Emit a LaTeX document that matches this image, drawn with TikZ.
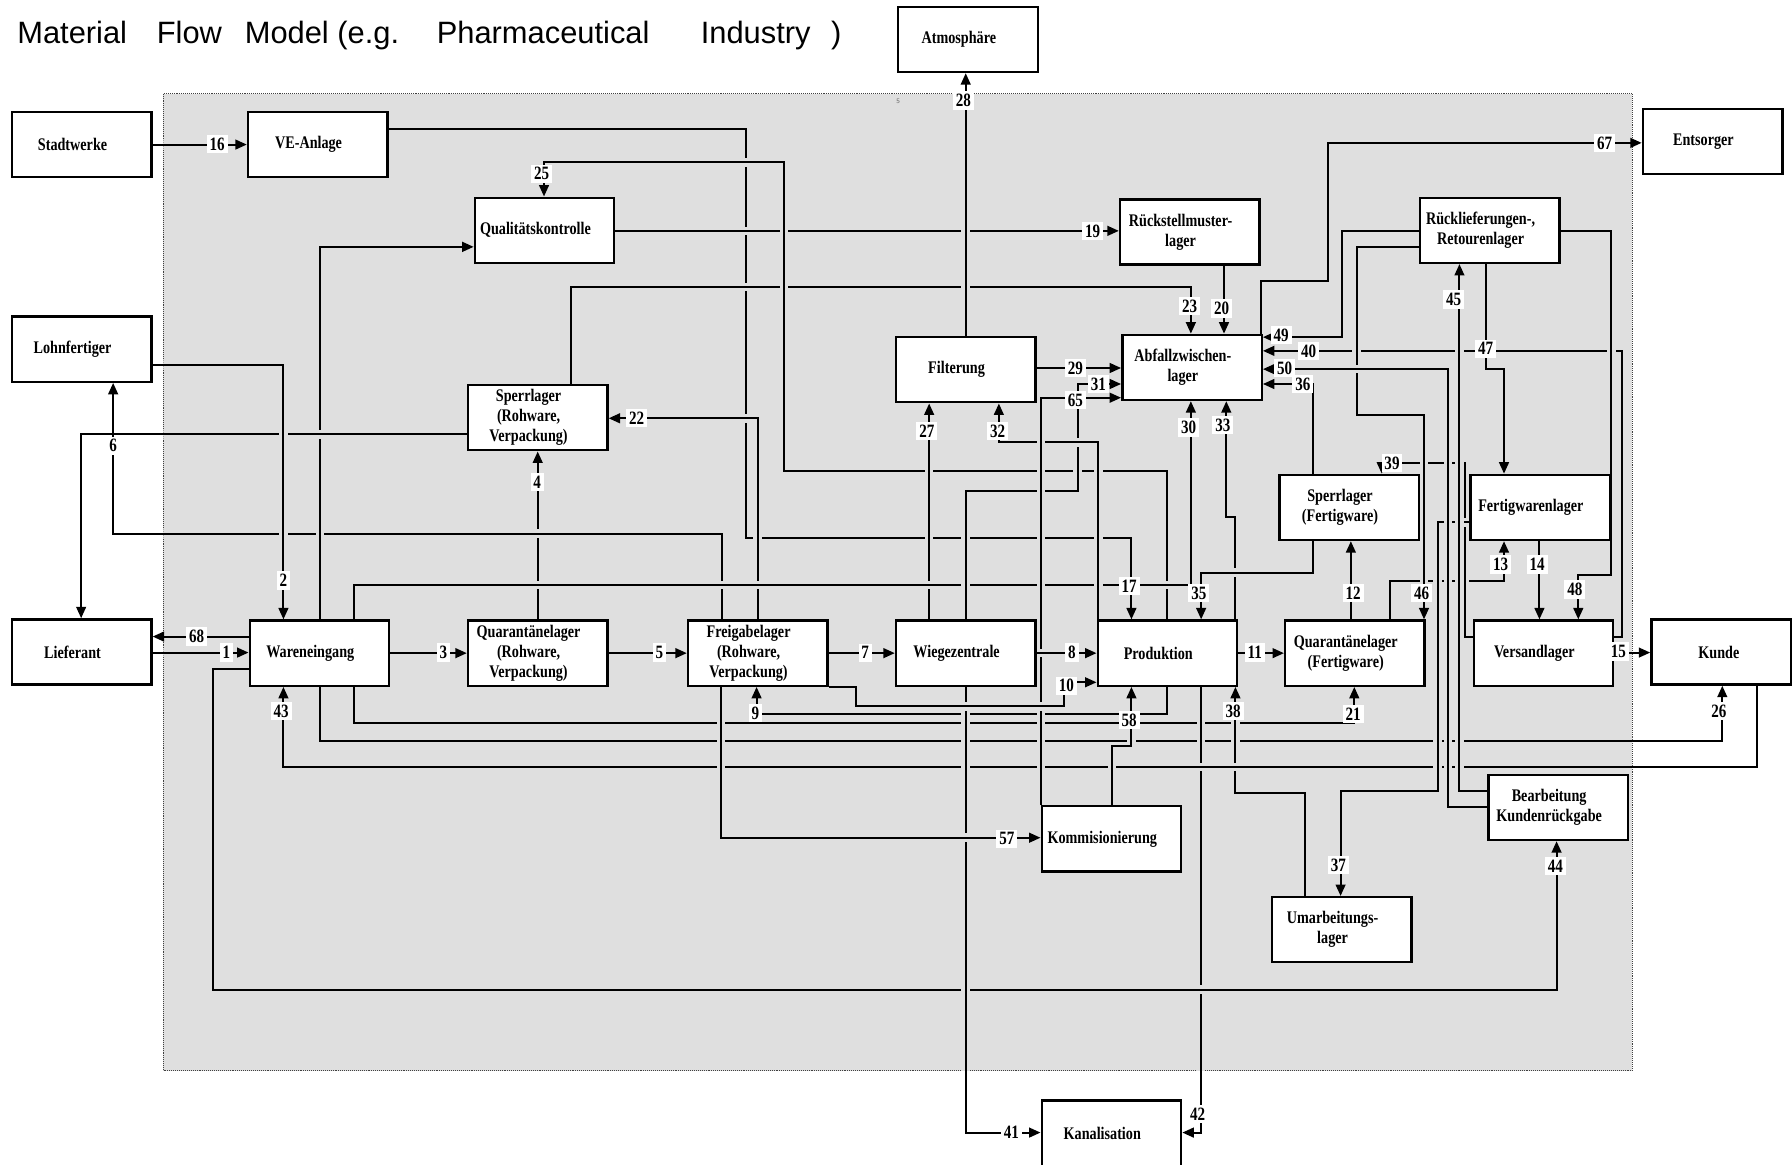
\documentclass[tikz,border=0pt]{standalone}
\usepackage{fontspec}
\setmainfont{Liberation Serif}
\newfontfamily\boxfont{Liberation Serif}[FakeStretch=0.8]
\newfontfamily\titlefont{Liberation Sans}
\usetikzlibrary{arrows.meta}
\definecolor{sysgrey}{HTML}{DFDFDF}
\pgfdeclarelayer{bg}
\pgfsetlayers{bg,main}
\tikzset{
  box/.style={draw, fill=white, line width=2.1pt, minimum width=122pt, minimum height=57pt,
    inner sep=0pt, label={[boxtxt]center:{#1}}},
  boxtxt/.style={xshift=-8pt, align=center, inner sep=0pt,
    font=\boxfont\bfseries\fontsize{15.5}{17.5}\selectfont},
  flow/.style={line width=1.8pt, -{Triangle[length=10pt,width=8.5pt]}},
  halo/.style={line width=7.5pt, sysgrey},
  num/.style={fill=white, inner xsep=2.5pt, inner ysep=2.5pt,
    font=\boxfont\bfseries\fontsize{16.5}{16.5}\selectfont},
  title/.style={anchor=base west, inner sep=0pt, font=\titlefont\fontsize{27}{27}\selectfont}
}
% line with a gap cut into the lines below it
\newcommand{\flowpath}[1]{%
  \begin{scope}
    \clip (sysA) rectangle (sysB);
    \draw[halo] #1;
  \end{scope}
  \draw[flow] #1;}

\begin{document}
\begin{tikzpicture}[x=1pt, y=-1pt]
  \useasboundingbox (0,0) rectangle (1568,1019);

  % Title
  \node[title] (t1) at (15,38) {Material};
  \node[title] (t2) at (137,38) {Flow};
  \node[title] (t3) at (214,38) {Model (e.g.};
  \node[title] (t4) at (382,38) {Pharmaceutical};
  \node[title] (t5) at (613,38) {Industry};
  \node[title] (t6) at (727,38) {)};

  % Company area
  \coordinate (sysA) at (143,82);
  \coordinate (sysB) at (1428,937);
  \node[font=\sffamily\fontsize{6}{6}\selectfont, text=black!60] (pgno) at (786,89) {5};

  % Boxes
  \node[box={Atmosphäre}] (atmo) at (847,34.5) {};
  \node[box={Stadtwerke}] (stadt) at (71.5,126.5) {};
  \node[box={VE-Anlage}] (ve) at (278,126.5) {};
  \node[box={Entsorger}] (ents) at (1498.5,124) {};
  \node[box={Qualitätskontrolle}] (qk) at (476.5,201.5) {};
  \node[box={Rückstellmuster-\\lager}] (rsm) at (1041,203) {};
  \node[box={Rücklieferungen-,\\Retourenlager}] (rue) at (1303.5,201.5) {};
  \node[box={Lohnfertiger}] (lohn) at (71.5,305.5) {};
  \node[box={Filterung}] (filt) at (845,323.5) {};
  \node[box={Abfallzwischen-\\lager}] (abf) at (1043,321.5) {};
  \node[box={Sperrlager\\(Rohware,\\Verpackung)}] (sperrR) at (470.5,365.5) {};
  \node[box={Sperrlager\\(Fertigware)}] (sperrF) at (1180.5,444) {};
  \node[box={Fertigwarenlager}] (fert) at (1347.5,444) {};
  \node[box={Lieferant}] (lief) at (71.5,570.5) {};
  \node[box={Wareneingang}] (we) at (279.5,571.5) {};
  \node[box={Quarantänelager\\(Rohware,\\Verpackung)}] (quaR) at (470.5,571.5) {};
  \node[box={Freigabelager\\(Rohware,\\Verpackung)}] (frei) at (663,571.5) {};
  \node[box={Wiegezentrale}] (wiege) at (845,571.5) {};
  \node[box={Produktion}] (prod) at (1021.5,571.5) {};
  \node[box={Quarantänelager\\(Fertigware)}] (quaF) at (1185.5,571.5) {};
  \node[box={Versandlager}] (vers) at (1350.5,571.5) {};
  \node[box={\hspace*{12pt}Kunde}] (kunde) at (1506,570.5) {};
  \node[box={Bearbeitung\\Kundenrückgabe}] (bearb) at (1363.5,706.5) {};
  \node[box={Kommisionierung}] (komm) at (972.5,734) {};
  \node[box={Umarbeitungs-\\lager}] (umarb) at (1174,813.5) {};
  \node[box={Kanalisation}, minimum height=58pt] (kanal) at (972.5,992) {};

  \begin{pgfonlayer}{bg}
    \fill[sysgrey] (sysA) rectangle (sysB);
    \draw[densely dotted, line width=0.7pt, black!75] (sysA) rectangle (sysB);

    % Flows, lowest first
    \flowpath{(quaF.north -| 1216,0) |- (1316,508) -- (fert.south -| 1316,0)}
    \flowpath{(vers.west |- 0,557) -| (1282,405) -| (sperrF.north -| 1209,0)}
    \flowpath{(vers.east |- 0,557) -- (1419,557) |- (abf.east |- 0,307)}
    \flowpath{(ve.east |- 0,113) -| (653,471) -| (prod.north -| 990,0)}
    \flowpath{(quaR.north) -- (sperrR.south)}
    \flowpath{(frei.north -| 632,0) |- (99,467) -- (lohn.south -| 99,0)}
    \flowpath{(we.north -| 280,0) |- (qk.west |- 0,216)}
    \flowpath{(sperrR.west |- 0,380) -| (lief.north -| 71,0)}
    \flowpath{(lohn.east |- 0,319) -| (we.north -| 248,0)}
    \flowpath{(qk.east |- 0,202) -- (rsm.west |- 0,202)}
    \flowpath{(sperrR.north -| 500,0) |- (1042,251) -- (abf.north -| 1042,0)}
    \flowpath{(frei.north -| 663,0) |- (sperrR.east |- 0,366)}
    \flowpath{(prod.north -| 1021,0) |- (686,412) |- (476,142) -- (qk.north -| 476,0)}
    \flowpath{(wiege.north -| 813,0) -- (filt.south -| 813,0)}
    \flowpath{(filt.north) -- (filt.north |- atmo.south)}
    \flowpath{(we.north -| 310,0) |- (1042,512) -- (abf.south -| 1042,0)}
    \flowpath{(wiege.north) |- (943,430) |- (abf.west |- 0,336)}
    \flowpath{(prod.north -| 961,0) |- (874,387) -- (filt.south -| 874,0)}
    \flowpath{(prod.north -| 1081,0) |- (1073,452) -- (abf.south -| 1073,0)}
    \flowpath{(sperrF.south -| 1149,0) |- (1051,501) -- (prod.north -| 1051,0)}
    \flowpath{(we.south -| 310,0) |- (1185,633) -- (quaF.south -| 1185,0)}
    \flowpath{(we.south -| 280,0) |- (1507,648) -- (kunde.south -| 1507,0)}
    \flowpath{(prod.south -| 1021,0) |- (662,625) -- (frei.south -| 662,0)}
    \flowpath{(prod.south -| 1051,0) |- (kanal.east |- 0,991)}
    \flowpath{(umarb.north -| 1142,0) |- (1081,694) -- (prod.south -| 1081,0)}
    \flowpath{(kunde.south -| 1537,0) |- (248,671) -- (we.south -| 248,0)}
    \flowpath{(we.west |- 0,585) -| (186,866) -| (bearb.south -| 1362,0)}
    \flowpath{(komm.north -| 911,0) |- (abf.west |- 0,348)}
    \flowpath{(wiege.south) |- (kanal.west |- 0,991)}
    \flowpath{(frei.south -| 631,0) |- (komm.west |- 0,733)}
    \flowpath{(frei.south east) -| (749,618) -| (931,597) -- (prod.west |- 0,597)}
    \flowpath{(komm.north -| 973,0) |- (990,653) -- (prod.south -| 990,0)}
    \flowpath{(rue.west |- 0,216) -| (1187,363) -| (quaF.north -| 1246,0)}
    \flowpath{(fert.west |- 0,457) -| (1258,692) -| (umarb.north -| 1173,0)}
    \flowpath{(bearb.west |- 0,706) -| (1267,323) -- (abf.east |- 0,323)}
    \flowpath{(bearb.west |- 0,692) -| (rue.south -| 1277,0)}
    \flowpath{(rue.south -| 1300,0) |- (1316,323) -- (fert.north -| 1316,0)}
    \flowpath{(rue.east |- 0,202) -| (1410,503) -| (vers.north -| 1381,0)}
    \flowpath{(rue.west |- 0,202) -| (1174,295) -- (abf.east |- 0,295)}
    \flowpath{(sperrF.north -| 1149,0) |- (abf.east |- 0,336)}
    \flowpath{(quaF.north -| 1182,0) -- (sperrF.south -| 1182,0)}
    \flowpath{(fert.south -| 1347,0) -- (vers.north -| 1347,0)}
    \flowpath{(abf.north -| 1103,0) |- (1162,246) |- (ents.west |- 0,125)}
    \flowpath{(rsm.south -| 1071,0) -- (abf.north -| 1071,0)}
    \flowpath{(filt.east |- 0,322) -- (abf.west |- 0,322)}
    \flowpath{(stadt.east) -- (ve.west)}
    \flowpath{(lief.east |- 0,571) -- (we.west |- 0,571)}
    \flowpath{(we.west |- 0,557) -- (lief.east |- 0,557)}
    \flowpath{(we.east) -- (quaR.west)}
    \flowpath{(quaR.east) -- (frei.west)}
    \flowpath{(frei.east) -- (wiege.west)}
    \flowpath{(wiege.east) -- (prod.west)}
    \flowpath{(prod.east) -- (quaF.west)}
    \flowpath{(vers.east |- 0,571) -- (kunde.west |- 0,571)}
  \end{pgfonlayer}

  % Flow numbers
  \node[num] (n1) at (198,571) {1};
  \node[num] (n2) at (248,508) {2};
  \node[num] (n3) at (388,571) {3};
  \node[num] (n4) at (470,422) {4};
  \node[num] (n5) at (577,571) {5};
  \node[num] (n6) at (99,390) {6};
  \node[num] (n7) at (757,571) {7};
  \node[num] (n8) at (938,571) {8};
  \node[num] (n9) at (661,624) {9};
  \node[num] (n10) at (933,600) {10};
  \node[num] (n11) at (1098,571) {11};
  \node[num] (n12) at (1184,519) {12};
  \node[num] (n13) at (1313,494) {13};
  \node[num] (n14) at (1345,494) {14};
  \node[num] (n15) at (1416,570) {15};
  \node[num] (n16) at (190,126) {16};
  \node[num] (n17) at (988,513) {17};
  \node[num] (n19) at (956,202) {19};
  \node[num] (n20) at (1069,270) {20};
  \node[num] (n21) at (1184,625) {21};
  \node[num] (n22) at (557,366) {22};
  \node[num] (n23) at (1041,268) {23};
  \node[num] (n25) at (474,152) {25};
  \node[num] (n26) at (1504,622) {26};
  \node[num] (n27) at (811,377) {27};
  \node[num] (n28) at (843,88) {28};
  \node[num] (n29) at (941,322) {29};
  \node[num] (n30) at (1040,374) {30};
  \node[num] (n31) at (961,336) {31};
  \node[num] (n32) at (873,377) {32};
  \node[num] (n33) at (1070,372) {33};
  \node[num] (n35) at (1049,519) {35};
  \node[num] (n36) at (1140,336) {36};
  \node[num] (n37) at (1171,757) {37};
  \node[num] (n38) at (1079,622) {38};
  \node[num] (n39) at (1218,405) {39};
  \node[num] (n40) at (1145,307) {40};
  \node[num] (n41) at (885,991) {41};
  \node[num] (n42) at (1048,975) {42};
  \node[num] (n43) at (246,622) {43};
  \node[num] (n44) at (1361,758) {44};
  \node[num] (n45) at (1272,262) {45};
  \node[num] (n46) at (1244,519) {46};
  \node[num] (n47) at (1300,305) {47};
  \node[num] (n48) at (1378,516) {48};
  \node[num] (n49) at (1121,293) {49};
  \node[num] (n50) at (1124,322) {50};
  \node[num] (n57) at (881,734) {57};
  \node[num] (n58) at (988,630) {58};
  \node[num] (n65) at (941,350) {65};
  \node[num] (n67) at (1404,125) {67};
  \node[num] (n68) at (172,557) {68};
\end{tikzpicture}
\end{document}
